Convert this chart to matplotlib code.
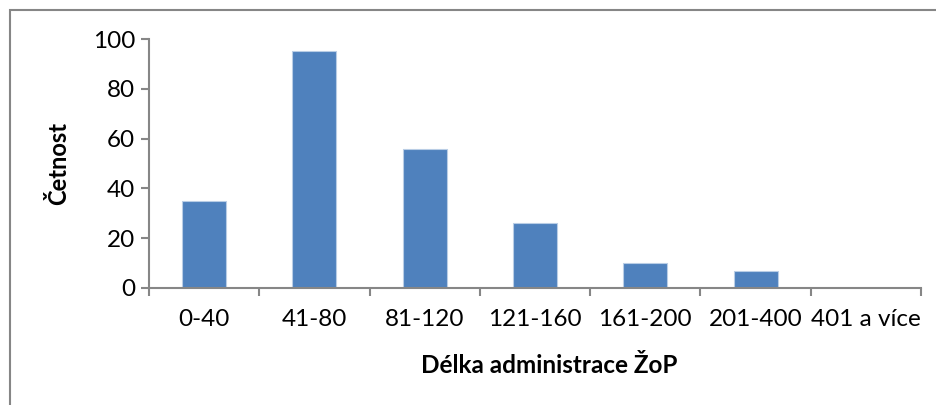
import matplotlib
matplotlib.use("Agg")
import matplotlib.pyplot as plt
from matplotlib.patches import Rectangle

# data
categories = ["0-40", "41-80", "81-120", "121-160", "161-200", "201-400", "401 a více"]
counts = [35, 95, 56, 26, 10, 7, 0]

plt.rcParams['font.family'] = ['Lato', 'DejaVu Sans']

fig = plt.figure(figsize=(9.36, 4.05), dpi=100)
W, H = 936, 405
# plot area in pixels: x 149..921, y 39..288
ax = fig.add_axes([149 / W, 1 - 288 / H, (921 - 149) / W, (288 - 39) / H])

x = list(range(len(categories)))
ax.bar(x, counts, width=0.4, color="#4F81BD", edgecolor="#B9CDE5", linewidth=0.8)

ax.set_xlim(-0.5, len(categories) - 0.5)
ax.set_ylim(0, 100)
ax.set_yticks([0, 20, 40, 60, 80, 100])
ax.set_xticks([i - 0.5 for i in range(len(categories) + 1)], minor=False)
ax.set_xticklabels([])
ax.set_xticks(x, minor=True)
ax.set_xticklabels(categories, minor=True)

for s in ["top", "right"]:
    ax.spines[s].set_visible(False)
for s in ["left", "bottom"]:
    ax.spines[s].set_color("#868686")
    ax.spines[s].set_linewidth(1.5)

ax.tick_params(axis="y", which="major", length=6, width=1.5, color="#868686",
               labelsize=17.5, pad=4)
ax.tick_params(axis="x", which="major", length=6, width=1.5, color="#868686",
               direction="out")
ax.tick_params(axis="x", which="minor", length=0, labelsize=17.5, pad=15)

ax.set_ylabel("Četnost", fontsize=17, fontweight="bold", labelpad=16)
ax.set_xlabel("Délka administrace ŽoP", fontsize=17.5, fontweight="bold")
ax.xaxis.set_label_coords(0.518, -0.265)
ax.xaxis.label.set_va("top")

# outer frame (only top and left visible in the picture)
fig.patches.append(Rectangle((10 / W, -0.1), 1.2, 1 - 10 / H + 0.1,
                             transform=fig.transFigure, fill=False,
                             edgecolor="#868686", linewidth=1.5))

fig.savefig("out.png", dpi=100)
